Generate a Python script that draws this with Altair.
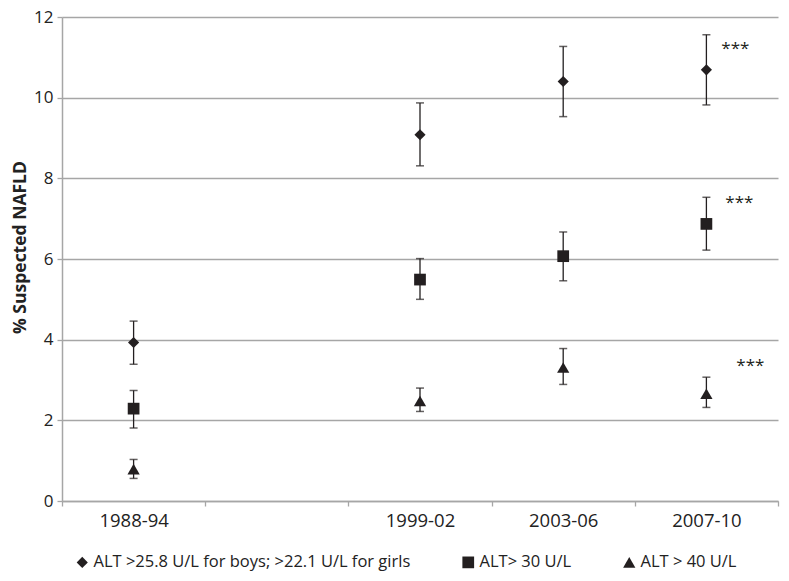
import altair as alt
import pandas as pd

periods = ["1988-94", "1999-02", "2003-06", "2007-10"]
x_domain = ["1988-94", "gap", "1999-02", "2003-06", "2007-10"]

series = [
    "ALT >25.8 U/L for boys; >22.1 U/L for girls",
    "ALT> 30 U/L",
    "ALT > 40 U/L",
]
shapes = ["diamond", "square", "triangle-up"]
marker_sizes = [125, 150, 150]

diamond_est = [3.93, 9.08, 10.40, 10.69]
diamond_lo = [3.39, 8.31, 9.53, 9.82]
diamond_hi = [4.46, 9.87, 11.27, 11.56]

square_est = [2.29, 5.49, 6.07, 6.87]
square_lo = [1.81, 5.00, 5.46, 6.22]
square_hi = [2.74, 6.01, 6.67, 7.53]

tri_est = [0.79, 2.48, 3.31, 2.66]
tri_lo = [0.56, 2.22, 2.89, 2.32]
tri_hi = [1.03, 2.80, 3.78, 3.07]

star_labels = ["***", "***", "***"]
star_y = [11.2, 7.4, 3.35]
star_dx = [29, 33, 44]

rows = []
for name, est, lo, hi in zip(series,
                             [diamond_est, square_est, tri_est],
                             [diamond_lo, square_lo, tri_lo],
                             [diamond_hi, square_hi, tri_hi]):
    for p, e, l, h in zip(periods, est, lo, hi):
        rows.append({"period": p, "series": name, "est": e, "lo": l, "hi": h})
df = pd.DataFrame(rows)

FONT = "Open Sans"
INK = "#231f20"
GRID = "#a6a6a6"
TXT = "#222222"

xscale = alt.Scale(type="band", domain=x_domain, paddingInner=0, paddingOuter=0)
yscale = alt.Scale(domain=[0, 12])

x_enc = alt.X(
    "period:N",
    scale=xscale,
    axis=alt.Axis(
        title=None,
        labelExpr="datum.value == 'gap' ? '' : datum.value",
        labelAngle=0,
        labelFont=FONT,
        labelFontSize=18.5,
        labelColor=TXT,
        labelPadding=5,
        tickBand="extent",
        tickSize=5,
        tickColor=GRID,
        tickWidth=1.3,
        domainColor=GRID,
        domainWidth=1.5,
        grid=False,
    ),
)

y_axis = alt.Axis(
    title="% Suspected NAFLD",
    titleFont=FONT,
    titleFontSize=17.5,
    titleFontWeight="bold",
    titleColor=TXT,
    titleX=-37,
    titleY=230,
    titleBaseline="alphabetic",
    values=[0, 2, 4, 6, 8, 10, 12],
    labelFont=FONT,
    labelFontSize=17,
    labelColor=TXT,
    labelPadding=4,
    tickSize=5,
    tickColor=GRID,
    tickWidth=1.3,
    domainColor=GRID,
    domainWidth=1.5,
    gridColor=GRID,
    gridWidth=1.5,
)

base = alt.Chart(df)

bars = base.mark_rule(color=INK, strokeWidth=1.3).encode(
    x=x_enc,
    y=alt.Y("lo:Q", scale=yscale, axis=y_axis),
    y2="hi:Q",
)
cap_lo = base.mark_tick(color=INK, size=8, thickness=1.5).encode(
    x=alt.X("period:N", scale=xscale), y=alt.Y("lo:Q", scale=yscale)
)
cap_hi = base.mark_tick(color=INK, size=8, thickness=1.5).encode(
    x=alt.X("period:N", scale=xscale), y=alt.Y("hi:Q", scale=yscale)
)

points = base.mark_point(filled=True, opacity=1).encode(
    x=alt.X("period:N", scale=xscale),
    y=alt.Y("est:Q", scale=yscale),
    color=alt.Color(
        "series:N",
        scale=alt.Scale(domain=series, range=[INK, INK, INK]),
        legend=alt.Legend(
            title=None,
            orient="none",
            legendX=12,
            legendY=537,
            direction="horizontal",
            labelFont=FONT,
            labelFontSize=16.5,
            labelColor=TXT,
            labelLimit=500,
        ),
    ),
    shape=alt.Shape("series:N", scale=alt.Scale(domain=series, range=shapes)),
    size=alt.Size("series:N", scale=alt.Scale(domain=series, range=marker_sizes)),
)

stars_df = pd.DataFrame({"period": ["2007-10"] * 3, "y": star_y, "label": star_labels})
star_layers = []
for i in range(3):
    star_layers.append(
        alt.Chart(stars_df.iloc[[i]]).mark_text(
            font=FONT, fontSize=17, color=INK, dx=star_dx[i], baseline="middle"
        ).encode(
            x=alt.X("period:N", scale=xscale),
            y=alt.Y("y:Q", scale=yscale),
            text="label:N",
        )
    )

chart = alt.layer(bars, cap_lo, cap_hi, points, *star_layers).properties(
    width=716,
    height=484,
    autosize=alt.AutoSizeParams(type="none"),
    padding={"left": 54, "top": 9, "right": 3, "bottom": 72},
).configure_view(stroke="transparent").configure_legend(
    columnPadding=49, labelOffset=3
)

chart.save("out.html", embed_options={"renderer": "svg", "actions": False})
